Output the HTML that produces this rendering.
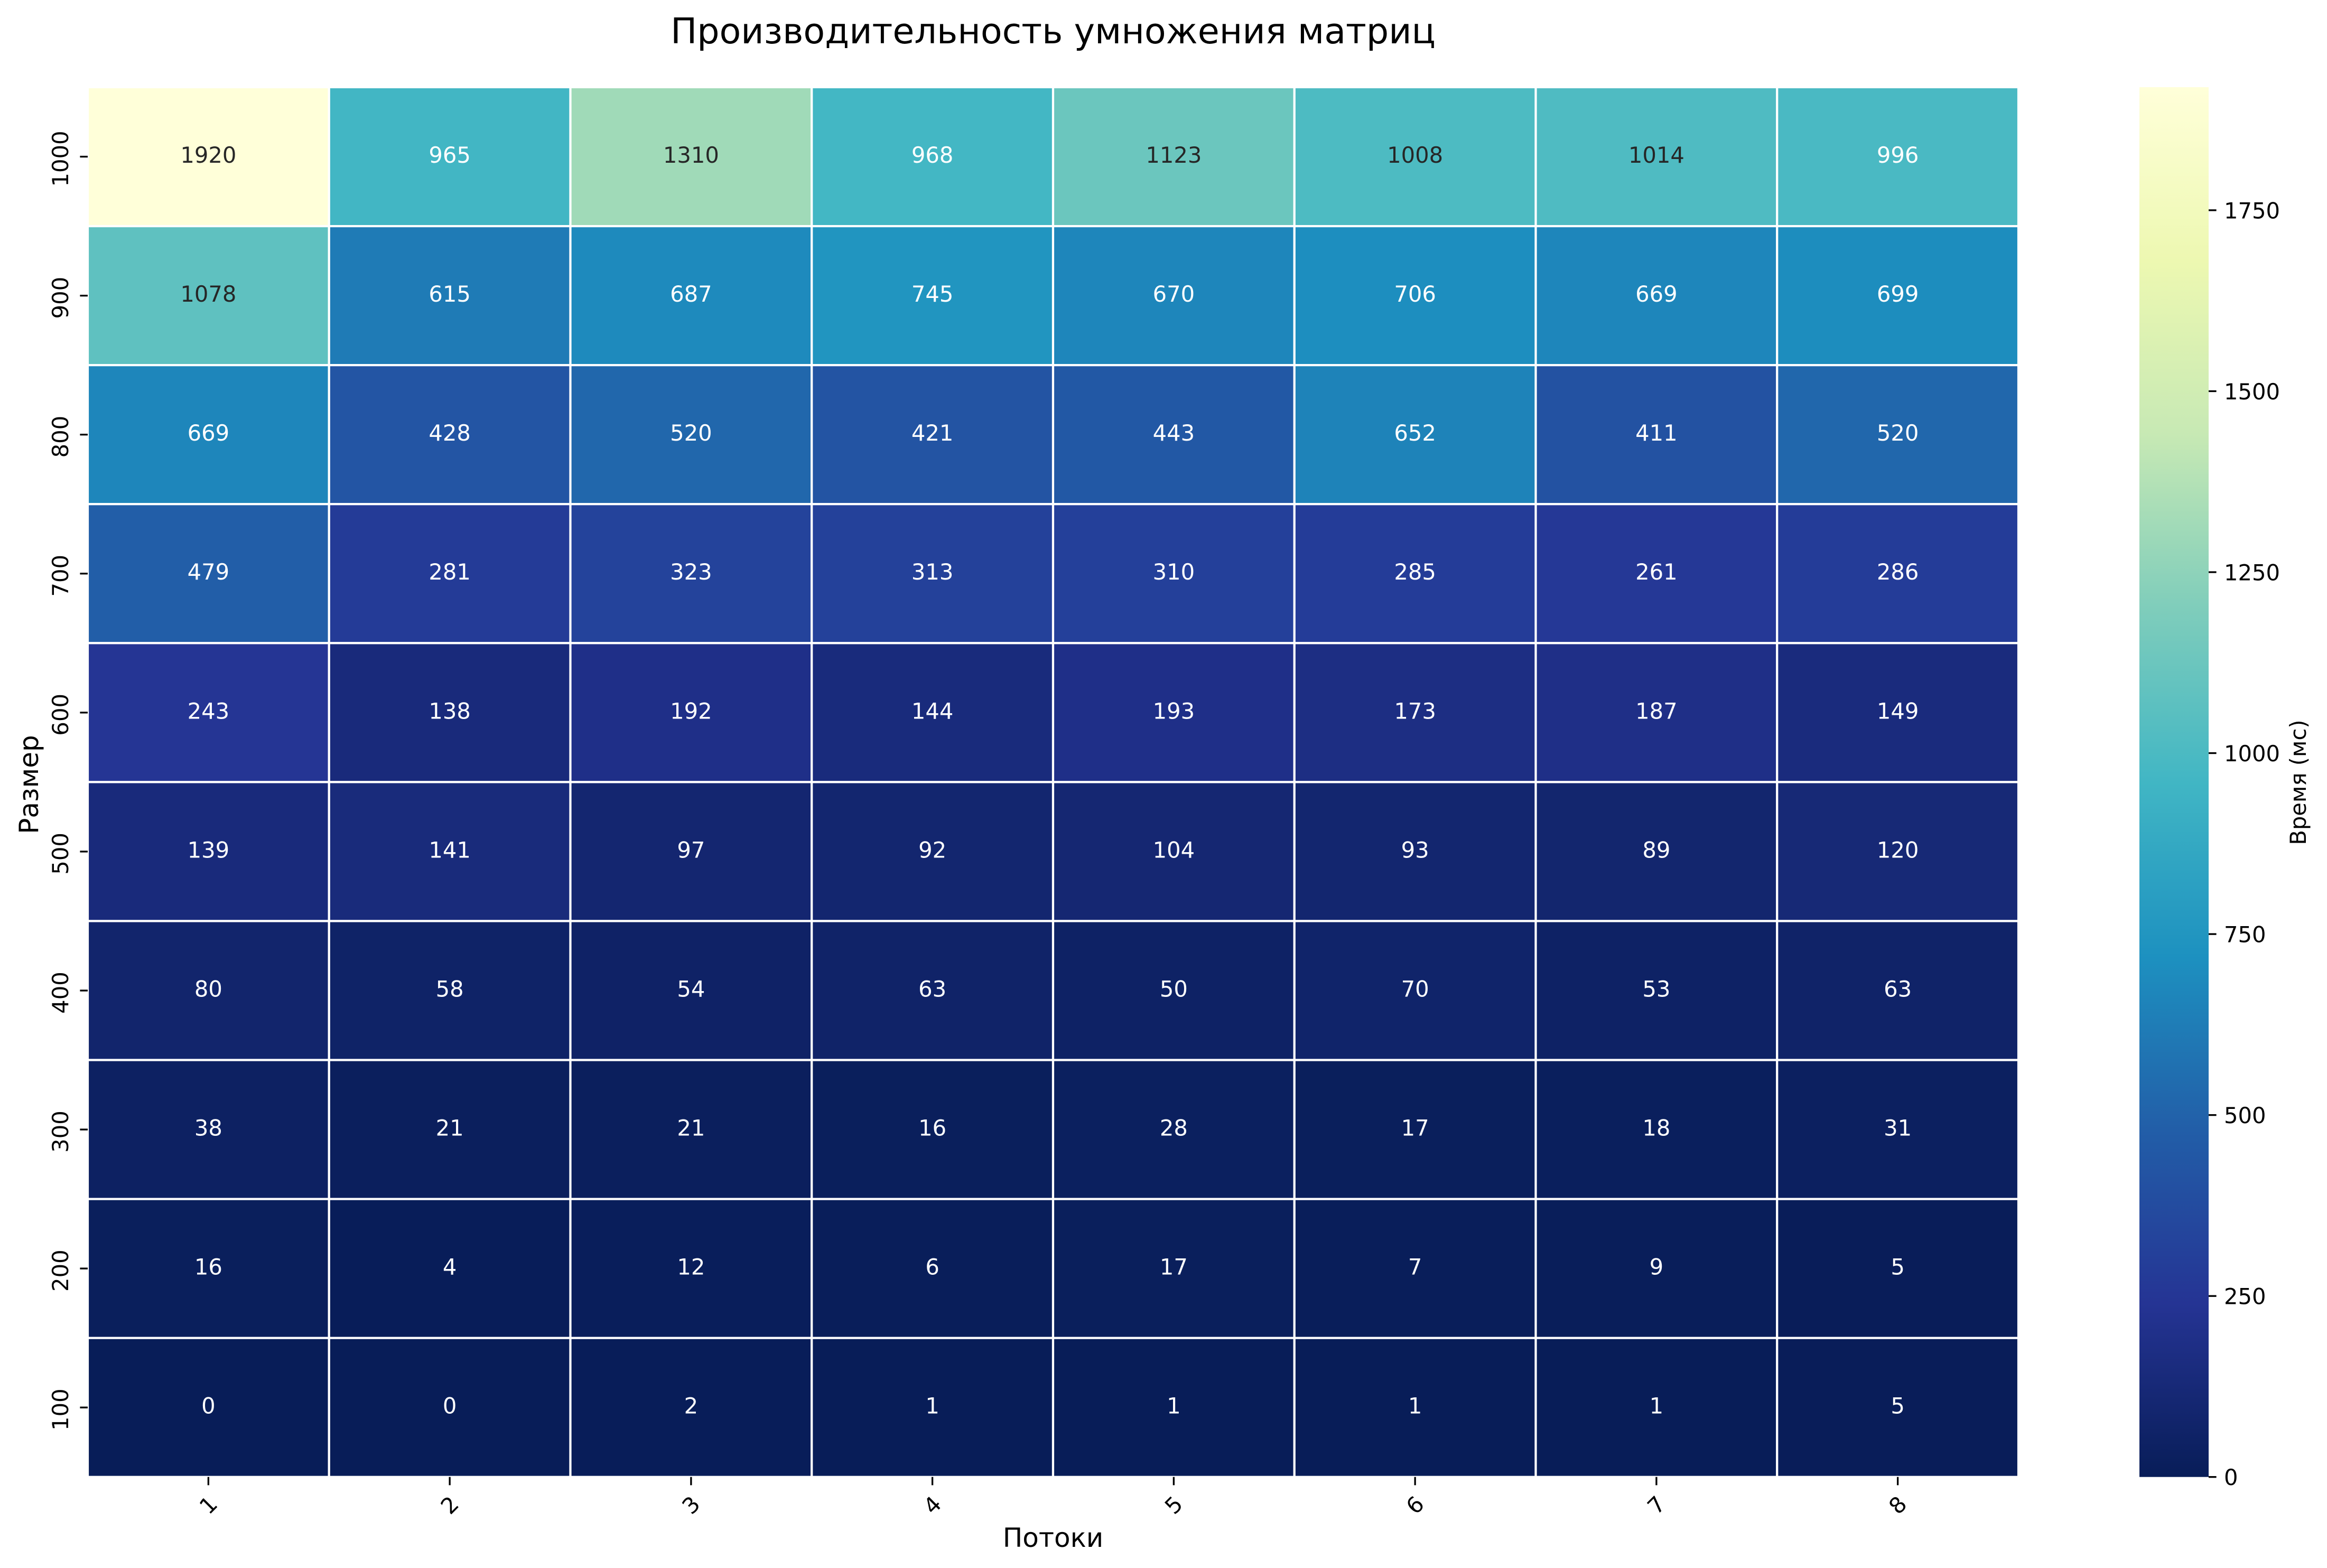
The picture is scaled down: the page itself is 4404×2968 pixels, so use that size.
<!DOCTYPE html>
<html lang="ru">
<head>
<meta charset="utf-8">
<title>Производительность умножения матриц</title>
<style>
html,body{margin:0;padding:0;background:#fff;}
svg{display:block;}
text{font-family:"DejaVu Sans","Liberation Sans",sans-serif;fill:#000;}
</style>
</head>
<body>
<svg id="chart" xmlns="http://www.w3.org/2000/svg" width="4404" height="2968" viewBox="0 0 4404 2968">
  <rect x="0" y="0" width="4404" height="2968" fill="#ffffff"/>
  <defs>
    <linearGradient id="cbar-gradient" x1="0" y1="1" x2="0" y2="0"></linearGradient>
  </defs>
  <text x="1993" y="82" font-size="66.67" text-anchor="middle">Производительность умножения матриц</text>
  <g id="cells"></g>
  <g id="annotations"></g>
  <g id="x-axis"></g>
  <g id="y-axis"></g>
  <text x="1993" y="2928" font-size="50" text-anchor="middle">Потоки</text>
  <text transform="translate(72 1485) rotate(-90)" font-size="50" text-anchor="middle">Размер</text>
  <rect x="4049" y="165" width="131" height="2630.7" fill="url(#cbar-gradient)"/>
  <g id="colorbar-axis"></g>
  <text transform="translate(4364 1481) rotate(-90)" font-size="41.67" text-anchor="middle">Время (мс)</text>
</svg>
<script>
const threads = [1, 2, 3, 4, 5, 6, 7, 8];
const sizes = [1000, 900, 800, 700, 600, 500, 400, 300, 200, 100];
const timesSize1000 = [1920, 965, 1310, 968, 1123, 1008, 1014, 996];
const timesSize900 = [1078, 615, 687, 745, 670, 706, 669, 699];
const timesSize800 = [669, 428, 520, 421, 443, 652, 411, 520];
const timesSize700 = [479, 281, 323, 313, 310, 285, 261, 286];
const timesSize600 = [243, 138, 192, 144, 193, 173, 187, 149];
const timesSize500 = [139, 141, 97, 92, 104, 93, 89, 120];
const timesSize400 = [80, 58, 54, 63, 50, 70, 53, 63];
const timesSize300 = [38, 21, 21, 16, 28, 17, 18, 31];
const timesSize200 = [16, 4, 12, 6, 17, 7, 9, 5];
const timesSize100 = [0, 0, 2, 1, 1, 1, 1, 5];
const colorbarTicks = [0, 250, 500, 750, 1000, 1250, 1500, 1750];

const rows = [timesSize1000, timesSize900, timesSize800, timesSize700, timesSize600, timesSize500, timesSize400, timesSize300, timesSize200, timesSize100];
const NS = 'http://www.w3.org/2000/svg';
const cmap = [[8,29,88],[37,52,148],[34,94,168],[29,145,192],[65,182,196],[127,205,187],[199,233,180],[237,248,177],[255,255,217]];

const plot = {left: 166, right: 3820, top: 165, bottom: 2795.7};
const cellW = (plot.right - plot.left) / threads.length;
const cellH = (plot.bottom - plot.top) / sizes.length;
const vMax = Math.max(...rows.flat());
const xPos = i => plot.left + i * cellW;
const yPos = j => plot.top + j * cellH;
const cbarY = v => plot.bottom - (v / vMax) * (plot.bottom - plot.top);

function colorAt(t) {
  const p = Math.min(Math.max(t, 0), 1) * (cmap.length - 1);
  const k = Math.min(Math.floor(p), cmap.length - 2);
  const f = p - k;
  return cmap[k].map((c, n) => c + (cmap[k + 1][n] - c) * f);
}
function luminance(rgb) {
  const lin = rgb.map(c => { const s = c / 255; return s <= 0.03928 ? s / 12.92 : Math.pow((s + 0.055) / 1.055, 2.4); });
  return 0.2126 * lin[0] + 0.7152 * lin[1] + 0.0722 * lin[2];
}
function cssColor(rgb) {
  return 'rgb(' + rgb.map(c => Math.round(c)).join(',') + ')';
}
function make(tag, attrs, parent, content) {
  const el = document.createElementNS(NS, tag);
  for (const k in attrs) el.setAttribute(k, attrs[k]);
  if (content !== undefined) el.textContent = content;
  parent.appendChild(el);
  return el;
}

const gradient = document.getElementById('cbar-gradient');
cmap.forEach((c, i) => {
  make('stop', {offset: i / (cmap.length - 1), 'stop-color': cssColor(c)}, gradient);
});

const cellsG = document.getElementById('cells');
const annG = document.getElementById('annotations');
rows.forEach((row, j) => {
  row.forEach((value, i) => {
    const rgb = colorAt(value / vMax);
    const cell = make('rect', {x: xPos(i), y: yPos(j), width: cellW, height: cellH, fill: cssColor(rgb), stroke: '#ffffff', 'stroke-width': 4.17}, cellsG);
    
    
    const label = make('text', {x: xPos(i + 0.5), y: yPos(j + 0.5) + 11.5, 'font-size': 41.67, 'text-anchor': 'middle'}, annG, String(value));
    label.style.fill = luminance(rgb) > 0.408 ? '#262626' : '#ffffff';
    
    
  });
});

const xAxis = document.getElementById('x-axis');
threads.forEach((t, i) => {
  const x = xPos(i + 0.5);
  const tick = make('line', {x1: x, x2: x, y1: plot.bottom, y2: plot.bottom + 15.6, stroke: '#000', 'stroke-width': 3.33}, xAxis);
  
  
  const label = make('text', {transform: 'translate(' + x + ' 2849) rotate(-45)', 'font-size': 41.67, 'text-anchor': 'middle', 'dominant-baseline': 'central'}, xAxis, String(t));
  
  
});

const yAxis = document.getElementById('y-axis');
sizes.forEach((s, j) => {
  const y = yPos(j + 0.5);
  const tick = make('line', {x1: plot.left - 14.6, x2: plot.left, y1: y, y2: y, stroke: '#000', 'stroke-width': 3.33}, yAxis);
  
  
  const label = make('text', {transform: 'translate(129 ' + (y + 4) + ') rotate(-90)', 'font-size': 41.67, 'text-anchor': 'middle'}, yAxis, String(s));
  
  
});

const cbarAxis = document.getElementById('colorbar-axis');
colorbarTicks.forEach(v => {
  const y = cbarY(v);
  const tick = make('line', {x1: 4180, x2: 4194.6, y1: y, y2: y, stroke: '#000', 'stroke-width': 3.33}, cbarAxis);
  
  
  const label = make('text', {x: 4209, y: y + 15.5, 'font-size': 41.67}, cbarAxis, String(v));
  
  
});
</script>
</body>
</html>
